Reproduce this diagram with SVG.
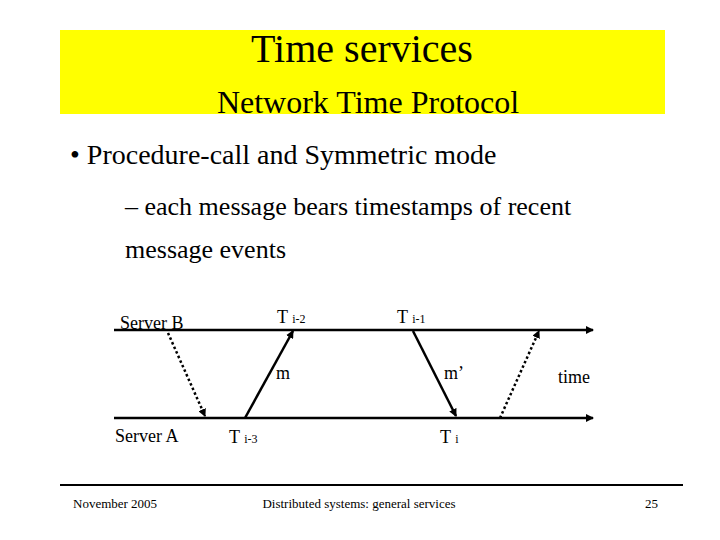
<svg xmlns="http://www.w3.org/2000/svg" width="720" height="540" viewBox="0 0 720 540" font-family="'Liberation Serif', 'Times New Roman', 'DejaVu Serif', serif">
<style>
text{font-family:'Liberation Serif','Times New Roman','DejaVu Serif',serif;fill:#000}
.ln{stroke:#000;stroke-width:2.5;fill:none}
.dt{stroke:#000;stroke-width:2.5;stroke-dasharray:2.5 2.5;fill:none}
.sub{font-size:12px}
</style>
<defs><marker id="a" markerWidth="8" markerHeight="8" refX="7" refY="4" orient="auto" markerUnits="userSpaceOnUse"><path d="M0,0 L8,4 L0,8 z" fill="#000"/></marker></defs>
<rect width="720" height="540" fill="#fff"/>
<g id="header">
<rect x="60" y="30" width="605" height="84" fill="#ffff00"/>
<text x="362" y="62" font-size="40" text-anchor="middle">Time services</text>
<text x="368" y="113" font-size="32" text-anchor="middle">Network Time Protocol</text>
</g>
<g id="bullets">
<text x="70" y="164" font-size="28">• Procedure-call and Symmetric mode</text>
<text x="125" y="215" font-size="26">– each message bears timestamps of recent</text>
<text x="125" y="258" font-size="26">message events</text>
</g>
<g id="connectors">
<line class="ln" x1="114" y1="330" x2="593" y2="330" marker-end="url(#a)"/>
<line class="ln" x1="114" y1="418" x2="593" y2="418" marker-end="url(#a)"/>
<line class="dt" x1="168" y1="333" x2="205" y2="416" marker-end="url(#a)"/>
<line class="ln" x1="245" y1="418" x2="293" y2="331" marker-end="url(#a)"/>
<line class="ln" x1="413" y1="331" x2="456" y2="416" marker-end="url(#a)"/>
<line class="dt" x1="500" y1="418" x2="539" y2="331" marker-end="url(#a)"/>
</g>
<g id="serverB"><text x="120" y="329" font-size="18">Server B</text></g>
<g id="serverA"><text x="115" y="442" font-size="18">Server A</text></g>
<g id="labels">
<text x="277" y="323" font-size="18">T <tspan class="sub">i-2</tspan></text>
<text x="397" y="323" font-size="18">T <tspan class="sub">i-1</tspan></text>
<text x="276" y="379" font-size="18">m</text>
<text x="444" y="379" font-size="18">m’</text>
<text x="558" y="383" font-size="18">time</text>
<text x="229" y="443" font-size="18">T <tspan class="sub">i-3</tspan></text>
<text x="440" y="443" font-size="18">T <tspan class="sub">i</tspan></text>
</g>
<g id="footer">
<line x1="60" y1="485" x2="683" y2="485" stroke="#000" stroke-width="2"/>
<text x="73" y="508" font-size="13">November 2005</text>
<text x="359" y="508" font-size="13" text-anchor="middle">Distributed systems: general services</text>
<text x="658" y="508" font-size="13" text-anchor="end">25</text>
</g>
</svg>
